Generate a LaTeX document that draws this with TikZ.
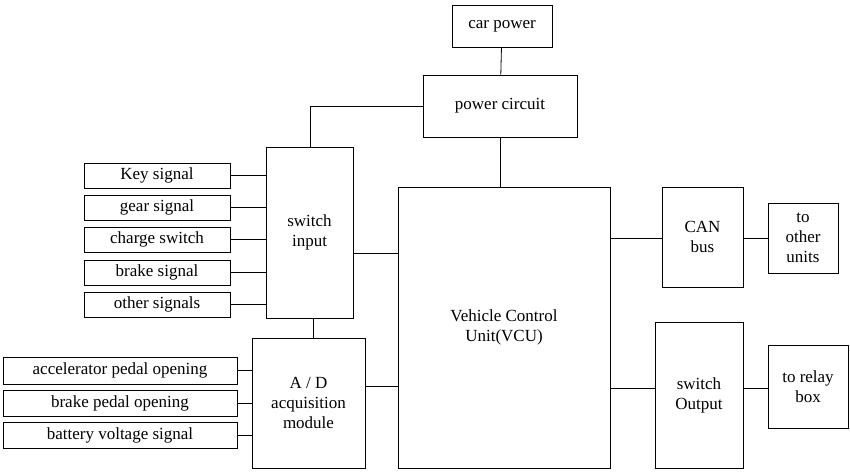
\documentclass[tikz,border=0pt]{standalone}
\usepackage{fontspec}
\setmainfont{Liberation Serif}
\begin{document}
\begin{tikzpicture}[x=1pt,y=-1pt,
  bx/.style={draw,thick,inner sep=0pt,align=center,font=\fontsize{17}{20}\selectfont},
  ln/.style={thick}]
\useasboundingbox (0,0) rectangle (850,471);
\def\B#1#2#3#4#5#6{\node[bx,minimum width={#4-#2},minimum height={#5-#3}] (#1) at ({(#2+#4)/2},{(#3+#5)/2}) {#6};}
\B{car}{452}{5}{552}{47}{car power}
\B{pc}{423}{75}{577}{137}{power circuit}
\B{si}{266}{147}{353}{318}{switch\\input}
\B{vcu}{398}{187}{610}{468}{Vehicle Control\\Unit(VCU)}
\B{can}{662}{187}{743}{287}{CAN\\bus}
\B{ou}{768}{203}{838}{273}{to\\other\\units}
\B{so}{655}{322}{743}{468}{switch\\Output}
\B{rb}{768}{345}{848}{428}{to relay\\box}
\B{ad}{252}{338}{365}{468}{A / D\\acquisition\\module}
\B{s1}{84}{163}{230}{188}{Key signal}
\B{s2}{84}{195}{230}{220}{gear signal}
\B{s3}{84}{227}{230}{252}{charge switch}
\B{s4}{84}{260}{230}{285}{brake signal}
\B{s5}{84}{292}{230}{317}{other signals}
\B{a1}{3}{357}{237}{384}{accelerator pedal opening}
\B{a2}{3}{390}{237}{416}{brake pedal opening}
\B{a3}{3}{422}{237}{448}{battery voltage signal}
\draw[ln] (car) -- (pc);
\draw[ln] (pc.west) -| (310,147);
\draw[ln] (pc.south) -- (vcu.north -| pc.south);
\foreach \s in {s1,s2,s3,s4,s5} \draw[ln] (\s.east) -- (\s.east -| si.west);
\foreach \s in {a1,a2,a3} \draw[ln] (\s.east) -- (\s.east -| ad.west);
\draw[ln] (353,253) -- (398,253);
\draw[ln] (313,318) -- (313,338);
\draw[ln] (365,386) -- (398,386);
\draw[ln] (610,238) -- (662,238);
\draw[ln] (743,238) -- (768,238);
\draw[ln] (610,388) -- (655,388);
\draw[ln] (743,388) -- (768,388);
\end{tikzpicture}
\end{document}
